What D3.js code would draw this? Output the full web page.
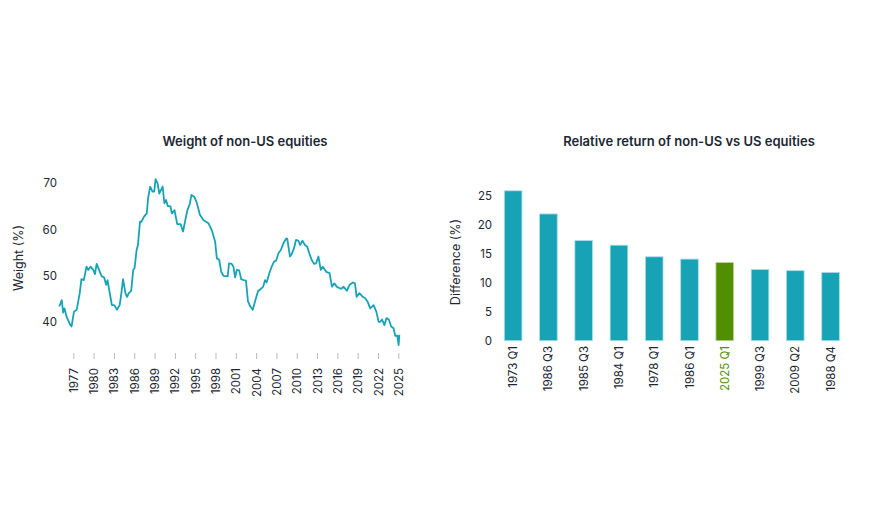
<!DOCTYPE html>
<html>
<head>
<meta charset="utf-8">
<script src="https://cdn.jsdelivr.net/npm/d3@7"></script>
<style>
body { margin: 0; background: #fff; }
svg text { font-family: Inter, "Noto Sans", sans-serif; fill: #1c2733; }
</style>
</head>
<body>
<svg id="chart" width="870" height="518"></svg>
<script>
// weight of non-US equities (decimal year, %)
var years = [1974.93,1975.3,1975.5,1975.7,1976.0,1976.5,1976.75,1977.1,1977.5,1977.95,1978.2,1978.55,1978.95,1979.2,1979.55,
  1979.95,1980.2,1980.45,1980.8,1981.2,1981.55,1981.85,1982.05,1982.35,1982.7,1983.05,1983.45,1983.85,1984.1,1984.35,
  1984.7,1984.95,1985.2,1985.55,1985.85,1986.05,1986.35,1986.55,1986.85,1987.05,1987.45,1987.85,1988.05,1988.35,1988.7,
  1988.95,1989.15,1989.45,1989.7,1990.2,1990.45,1990.7,1990.95,1991.35,1991.55,1991.95,1992.35,1992.85,1993.2,1993.55,
  1993.85,1994.2,1994.45,1994.85,1995.2,1995.7,1996.2,1996.95,1997.45,1997.95,1998.2,1998.55,1998.85,1999.2,1999.8,
  2000.0,2000.4,2000.65,2000.9,2001.15,2001.5,2001.8,2002.15,2002.5,2002.8,2003.15,2003.5,2003.9,2004.3,2004.55,
  2005.05,2005.3,2005.55,2005.95,2006.3,2006.65,2006.95,2007.3,2007.65,2008.05,2008.45,2008.6,2009.0,2009.25,2009.6,
  2009.9,2010.25,2010.5,2010.85,2011.2,2011.55,2011.85,2012.2,2012.55,2012.85,2013.2,2013.55,2013.85,2014.35,2014.85,
  2015.2,2015.55,2015.9,2016.4,2016.65,2016.9,2017.4,2017.8,2018.3,2018.6,2018.85,2019.25,2019.75,2020.1,2020.45,
  2020.85,2021.35,2021.75,2022.1,2022.35,2022.6,2022.95,2023.25,2023.6,2023.95,2024.3,2024.55,2024.85,2025.05,2025.15];
var weights = [43.4,44.8,42.1,43.0,41.2,39.6,39.1,42.3,42.7,46.3,49.3,49.1,52.0,51.3,52.0,
  51.3,50.4,52.6,51.3,49.9,49.7,48.1,49.1,46.6,43.7,43.7,42.7,43.7,46.3,49.3,
  46.3,45.5,46.3,46.8,51.3,51.7,55.6,56.7,61.7,61.7,62.8,63.5,66.8,69.3,68.2,
  68.2,70.9,70.0,67.8,69.3,65.7,66.4,65.1,65.0,63.5,64.2,61.2,61.2,59.6,62.1,
  64.2,65.5,67.5,67.1,66.0,63.2,62.1,61.4,59.9,57.4,53.8,53.5,50.9,50.0,49.9,
  52.7,52.6,52.0,49.7,51.3,51.2,49.3,49.1,49.0,44.5,43.4,42.7,44.8,46.8,47.0,
  47.7,49.1,48.6,50.6,52.0,53.1,53.3,54.9,55.6,57.1,58.1,58.0,54.2,54.7,56.0,
  57.8,57.6,56.7,57.6,56.7,56.3,54.9,53.5,52.6,52.7,54.2,51.3,52.0,50.9,50.6,
  47.7,48.4,47.7,47.3,47.3,47.7,46.8,48.1,48.6,48.4,45.5,46.3,45.5,45.2,44.5,
  43.0,43.7,42.3,40.1,40.1,40.6,39.4,40.9,40.6,39.1,38.7,37.1,37.1,35.1,37.3,37.4];
var yearTicks = [1977,1980,1983,1986,1989,1992,1995,1998,2001,2004,2007,2010,2013,2016,2019,2022,2025];
var weightTicks = [40,50,60,70];

// relative return of non-US vs US equities (%)
var quarters = ["1973 Q1","1986 Q3","1985 Q3","1984 Q1","1978 Q1","1986 Q1","2025 Q1","1999 Q3","2009 Q2","1988 Q4"];
var diffs = [25.9,21.9,17.3,16.5,14.5,14.1,13.5,12.3,12.1,11.8];
var diffTicks = [0,5,10,15,20,25];
var highlight = "2025 Q1";

var teal = "#17a3b5", green = "#518f00";
var svg = d3.select("#chart");

// ---- left: line chart
var x = d3.scaleLinear().domain([1977, 2025]).range([73.3, 398.3]);
var y = d3.scaleLinear().domain([40, 70]).range([322.3, 183.3]);

svg.append("text").attr("x", 245).attr("y", 146).attr("text-anchor", "middle")
  .style("font-size", "13px").style("font-weight", 600).text("Weight of non-US equities");

svg.append("g").selectAll("text").data(weightTicks).enter().append("text")
  .attr("x", 57).attr("y", function(d){ return y(d); }).attr("dy", "0.35em")
  .attr("text-anchor", "end").style("font-size", "11.5px").text(function(d){ return d; });

svg.append("text").attr("transform", "translate(23,258)rotate(-90)").attr("text-anchor", "middle")
  .style("font-size", "12.5px").text("Weight (%)");

var xa = svg.append("g").attr("transform", "translate(0,353)")
  .call(d3.axisBottom(x).tickValues(yearTicks).tickFormat(d3.format("d")).tickSize(6).tickPadding(9));
xa.select(".domain").remove();
xa.selectAll("line").attr("stroke", "#b5b9bd");
xa.selectAll("text").attr("transform", "rotate(-90)").attr("text-anchor", "end")
  .attr("x", -15).attr("y", 0).attr("dy", "0.35em").style("font-size", "11.5px").attr("fill", "#1c2733");

var pts = years.map(function(d, i){ return [d, weights[i]]; });
svg.append("path").datum(pts)
  .attr("d", d3.line().x(function(d){ return x(d[0]); }).y(function(d){ return y(d[1]); }))
  .attr("fill", "none").attr("stroke", teal).attr("stroke-width", 1.8).attr("stroke-linejoin", "round");

// ---- right: bar chart
var bx = d3.scaleBand().domain(quarters).range([486.7, 857]).padding(0.5);
var by = d3.scaleLinear().domain([0, 25]).range([340.7, 196]);

svg.append("text").attr("x", 689).attr("y", 146).attr("text-anchor", "middle")
  .style("font-size", "13px").style("font-weight", 600).text("Relative return of non-US vs US equities");

svg.append("g").selectAll("text").data(diffTicks).enter().append("text")
  .attr("x", 492).attr("y", function(d){ return by(d); }).attr("dy", "0.35em")
  .attr("text-anchor", "end").style("font-size", "11.5px").text(function(d){ return d; });

svg.append("text").attr("transform", "translate(460,262)rotate(-90)").attr("text-anchor", "middle")
  .style("font-size", "12.5px").text("Difference (%)");

svg.append("g").selectAll("rect").data(quarters).enter().append("rect")
  .attr("x", function(d){ return bx(d); }).attr("width", bx.bandwidth())
  .attr("y", function(d, i){ return by(diffs[i]); })
  .attr("height", function(d, i){ return by(0) - by(diffs[i]); })
  .attr("fill", function(d){ return d == highlight ? green : teal; })
  .attr("stroke", function(d){ return d == highlight ? "#b9d699" : "#a9dfe6"; }).attr("stroke-width", 0.8);

svg.append("g").selectAll("text").data(quarters).enter().append("text")
  .attr("transform", function(d){ return "translate(" + (bx(d) + bx.bandwidth()/2) + ",346)rotate(-90)"; })
  .attr("text-anchor", "end").attr("dy", "0.35em").style("font-size", "11.5px")
  .style("fill", function(d){ return d == highlight ? green : "#1c2733"; })
  .text(function(d){ return d; });
</script>
</body>
</html>
